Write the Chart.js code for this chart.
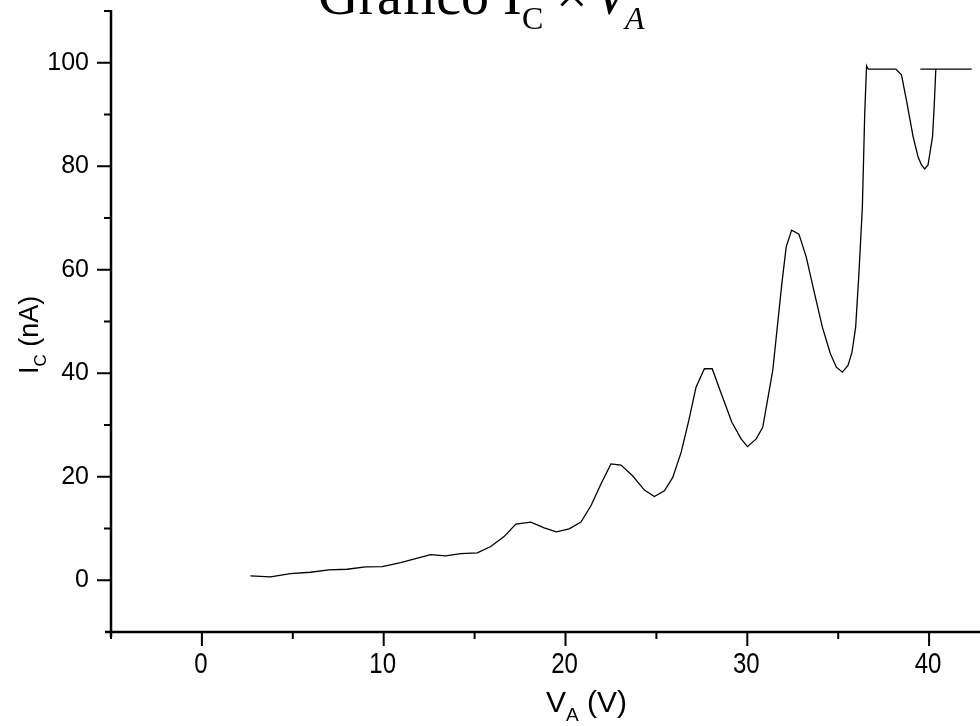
<!DOCTYPE html>
<html>
<head>
<meta charset="utf-8">
<script src="https://cdn.jsdelivr.net/npm/chart.js@4"></script>
<style>
  html, body { margin: 0; padding: 0; background: #fff; }
  #wrap { width: 980px; height: 726px; }
</style>
</head>
<body>
<div id="wrap"><canvas id="myChart"></canvas></div>
<script>
// V_A (V) readings
var voltage = [2.67, 3.77, 4.87, 5.97, 6.98, 7.99, 9.0, 9.92, 10.93, 11.76,
  12.58, 13.41, 14.24, 15.15, 15.89, 16.62, 17.27, 18.09, 18.83, 19.5,
  20.2, 20.85, 21.4, 21.95, 22.5, 23.05, 23.69, 24.34, 24.89, 25.44,
  25.9, 26.36, 26.78, 27.18, 27.64, 28.07, 28.47, 29.15, 29.66, 30.01,
  30.49, 30.85, 31.4, 31.9, 32.14, 32.44, 32.84, 33.24, 33.7, 34.13,
  34.57, 34.9, 35.23, 35.54, 35.76, 35.96, 36.14, 36.33, 36.46, 36.56,
  36.65, 38.17, 38.48, 38.75, 39.12, 39.39, 39.58, 39.76, 39.94, 40.19,
  40.28, 40.37, 42.34, 39.52];
// I_C (nA) readings
var current = [0.83, 0.64, 1.28, 1.55, 2.0, 2.13, 2.58, 2.63, 3.41, 4.18,
  4.96, 4.71, 5.15, 5.29, 6.51, 8.44, 10.85, 11.23, 10.13, 9.35,
  9.94, 11.23, 14.39, 18.59, 22.47, 22.27, 20.2, 17.43, 16.19, 17.3,
  19.87, 24.71, 30.85, 37.3, 40.87, 40.87, 37.0, 30.52, 27.31, 25.82,
  27.31, 29.56, 40.54, 57.33, 64.42, 67.65, 66.88, 62.48, 55.39, 48.92,
  43.77, 41.18, 40.21, 41.51, 44.08, 48.92, 59.27, 72.17, 90.26, 99.4,
  98.78, 98.78, 97.67, 92.83, 85.73, 81.85, 80.24, 79.47, 80.24, 85.73,
  91.54, 98.78, 98.78, 98.78];

var xMajor = [0, 10, 20, 30, 40];
var xMinor = [-5, 5, 15, 25, 35];
var yMajor = [0, 20, 40, 60, 80, 100];
var yMinor = [10, 30, 50, 70, 90, 110];

var points = voltage.map(function (v, i) { return { x: v, y: current[i] }; });

var sans = '"Liberation Sans", Arial, sans-serif';
var serif = '"Liberation Serif", "Times New Roman", serif';
var squeeze = 0.8; // x tick labels are horizontally condensed

// axes lines, outward ticks, x labels, axis titles with subscripts and the big title
var decorations = {
  id: 'decorations',
  afterDraw: function (chart) {
    var ctx = chart.ctx;
    var xs = chart.scales.x, ys = chart.scales.y;
    var a = chart.chartArea;
    ctx.save();
    ctx.strokeStyle = '#000';
    ctx.lineWidth = 2.5;
    ctx.beginPath();
    ctx.moveTo(a.left - 6, a.bottom);
    ctx.lineTo(a.right, a.bottom);
    ctx.moveTo(a.left, a.top - 1);
    ctx.lineTo(a.left, a.bottom + 5);
    ctx.stroke();

    ctx.lineWidth = 2;
    ctx.beginPath();
    xMajor.forEach(function (v) {
      var px = xs.getPixelForValue(v);
      ctx.moveTo(px, a.bottom); ctx.lineTo(px, a.bottom + 14);
    });
    xMinor.forEach(function (v) {
      var px = xs.getPixelForValue(v);
      ctx.moveTo(px, a.bottom); ctx.lineTo(px, a.bottom + 7);
    });
    yMajor.forEach(function (v) {
      var py = ys.getPixelForValue(v);
      ctx.moveTo(a.left, py); ctx.lineTo(a.left - 14, py);
    });
    yMinor.forEach(function (v) {
      var py = ys.getPixelForValue(v);
      ctx.moveTo(a.left, py); ctx.lineTo(a.left - 7, py);
    });
    ctx.stroke();

    ctx.fillStyle = '#000';
    ctx.textBaseline = 'alphabetic';

    // x tick labels, condensed
    ctx.font = '30px ' + sans;
    ctx.textAlign = 'center';
    xMajor.forEach(function (v) {
      var px = xs.getPixelForValue(v);
      ctx.save();
      ctx.translate(px - 1, a.bottom + 41);
      ctx.scale(squeeze, 1);
      ctx.fillText(String(v), 0, 0);
      ctx.restore();
    });
    ctx.textAlign = 'left';

    // x title: V_A (V)
    var x = 546, y = 712;
    ctx.font = '30px ' + sans;
    ctx.fillText('V', x, y);
    x += ctx.measureText('V').width;
    ctx.font = '19px ' + sans;
    ctx.fillText('A', x, y + 9);
    x += ctx.measureText('A').width;
    ctx.font = '30px ' + sans;
    ctx.fillText(' (V)', x, y);

    // y title: I_C (nA)
    ctx.save();
    ctx.translate(38, 374);
    ctx.rotate(-Math.PI / 2);
    var t = 0;
    ctx.font = '27px ' + sans;
    ctx.fillText('I', t, 0);
    t += ctx.measureText('I').width;
    ctx.font = '17px ' + sans;
    ctx.fillText('C', t, 8);
    t += ctx.measureText('C').width;
    ctx.font = '27px ' + sans;
    ctx.fillText(' (nA)', t, 0);
    ctx.restore();

    // chart title, cut off at the top edge
    var ty = 14;
    ctx.font = '56px ' + serif;
    ctx.fillText('Grafico I', 318, ty);
    ctx.font = '32px ' + serif;
    ctx.fillText('C', 522, ty + 15);
    ctx.font = '56px ' + serif;
    ctx.fillText('\u00d7', 556, ty);
    ctx.font = 'italic 56px ' + serif;
    ctx.fillText('V', 594, ty);
    ctx.font = 'italic 32px ' + serif;
    ctx.fillText('A', 625, ty + 15);
    ctx.restore();
  }
};

new Chart('myChart', {
  type: 'scatter',
  data: {
    datasets: [{
      data: points,
      showLine: true,
      borderColor: '#000',
      borderWidth: 1.3,
      pointRadius: 0,
      tension: 0,
      fill: false
    }]
  },
  options: {
    responsive: true,
    maintainAspectRatio: false,
    animation: false,
    layout: { padding: { left: 0, right: 0, top: 11, bottom: 0 } },
    plugins: {
      legend: { display: false },
      title: { display: false },
      tooltip: { enabled: false }
    },
    scales: {
      x: {
        type: 'linear',
        min: -5,
        max: 42.8,
        afterFit: function (scale) {
          scale.height = 94;
          scale.paddingLeft = 0;
          scale.paddingRight = 0;
        },
        afterBuildTicks: function (scale) {
          scale.ticks = xMajor.map(function (v) { return { value: v }; });
        },
        grid: { display: false, drawTicks: false },
        border: { display: false },
        ticks: { display: false }
      },
      y: {
        type: 'linear',
        min: -10,
        max: 110,
        afterFit: function (scale) {
          scale.width = 111;
          scale.paddingTop = 0;
          scale.paddingBottom = 0;
        },
        afterBuildTicks: function (scale) {
          scale.ticks = yMajor.map(function (v) { return { value: v }; });
        },
        grid: { display: false, drawTicks: false },
        border: { display: false },
        ticks: {
          padding: 22,
          color: '#000',
          font: { family: 'Liberation Sans', size: 25 }
        }
      }
    }
  },
  plugins: [decorations]
});
</script>
</body>
</html>
